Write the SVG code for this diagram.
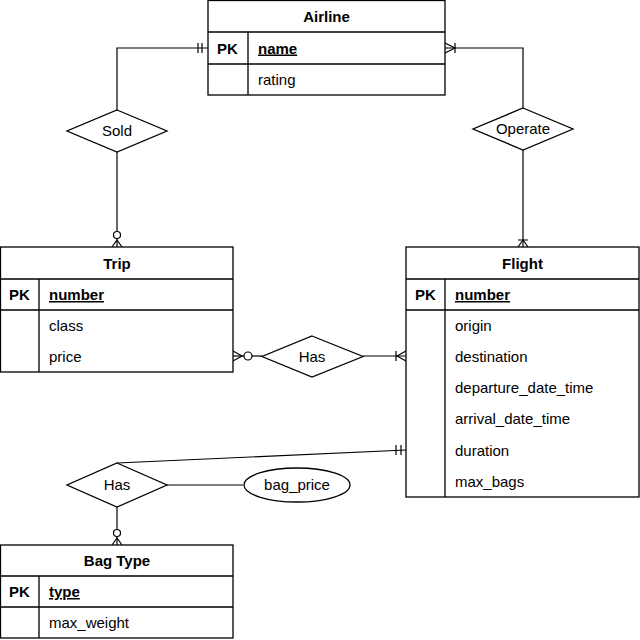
<svg xmlns="http://www.w3.org/2000/svg" width="640" height="640" viewBox="0 0 640 640">
<style>
.box{fill:#fff;stroke:#000;stroke-width:1.3}
.ln{fill:none;stroke:#000;stroke-width:1.3}
.c{fill:none;stroke:#000;stroke-width:1.2}
text{font-family:"Liberation Sans",Arial,sans-serif;font-size:15px;fill:#000}
.h{font-weight:bold;text-anchor:middle}
.b{font-weight:bold}
.u{font-weight:bold;text-decoration:underline}
.m{text-anchor:middle}
</style>
<rect width="640" height="640" fill="#fff"/>
<g id="connectors">
  <!-- Sold -->
  <path class="c" d="M117,110 V48 H208"/>
  <path class="c" d="M198,43 V53 M202,43 V53"/>
  <path class="c" d="M117,152 V247"/>
  <circle cx="117" cy="235" r="3.5" fill="#fff" stroke="#000" stroke-width="1.2"/>
  <path class="c" d="M112,247 L117,240 L122,247"/>
  <!-- Operate -->
  <path class="c" d="M445,48 H523 V108"/>
  <path class="c" d="M445,43 L455,48 L445,53 M455,43 V53"/>
  <path class="c" d="M523,150 V247"/>
  <path class="c" d="M518,247 L523,240 L528,247 M518,240 H528"/>
  <!-- Has Trip-Flight -->
  <path class="c" d="M233,356 H262"/>
  <path class="c" d="M233,351 L242,356 L233,361"/>
  <circle cx="248" cy="356" r="4" fill="#fff" stroke="#000" stroke-width="1.2"/>
  <path class="c" d="M363,356 H406"/>
  <path class="c" d="M406,351 L397,356 L406,361 M396,351 V361"/>
  <!-- Has Bag -->
  <path class="c" d="M117,463 L406,450"/>
  <path class="c" d="M396,445 V455 M401,445 V455"/>
  <path class="c" d="M117,507 V545"/>
  <circle cx="117" cy="533" r="3.5" fill="#fff" stroke="#000" stroke-width="1.2"/>
  <path class="c" d="M112,545 L117,538 L122,545"/>
  <path class="c" d="M167,485 H243"/>
</g>
<g id="airline">
  <rect class="box" x="208" y="0.5" width="237" height="94.5"/>
  <path class="ln" d="M208,32 H445 M208,64 H445 M248,32 V95"/>
  <text class="h" x="326.5" y="21.5">Airline</text>
  <text class="b" x="217" y="53.5">PK</text>
  <text class="u" x="258" y="53.5">name</text>
  <text x="258" y="84.5">rating</text>
</g>
<g id="trip">
  <rect class="box" x="0.5" y="247" width="232.5" height="125"/>
  <path class="ln" d="M0,279 H233 M0,310 H233 M39,279 V372"/>
  <text class="h" x="117" y="268.5">Trip</text>
  <text class="b" x="9" y="300">PK</text>
  <text class="u" x="49" y="300">number</text>
  <text x="49" y="331">class</text>
  <text x="49" y="362">price</text>
</g>
<g id="flight">
  <rect class="box" x="406" y="247" width="233" height="250"/>
  <path class="ln" d="M406,279 H639 M406,310 H639 M445,279 V497"/>
  <text class="h" x="522.5" y="268.5">Flight</text>
  <text class="b" x="415" y="300">PK</text>
  <text class="u" x="455" y="300">number</text>
  <text x="455" y="331">origin</text>
  <text x="455" y="362">destination</text>
  <text x="455" y="393">departure_date_time</text>
  <text x="455" y="424">arrival_date_time</text>
  <text x="455" y="455.5">duration</text>
  <text x="455" y="486.5">max_bags</text>
</g>
<g id="bagtype">
  <rect class="box" x="0.5" y="545" width="232.5" height="93"/>
  <path class="ln" d="M0,576 H233 M0,607 H233 M39,576 V638"/>
  <text class="h" x="117" y="566">Bag Type</text>
  <text class="b" x="9" y="597">PK</text>
  <text class="u" x="49" y="597">type</text>
  <text x="49" y="628">max_weight</text>
</g>
<g id="sold">
  <polygon class="box" points="117,110 167,131 117,152 67,131"/>
  <text class="m" x="117" y="136">Sold</text>
</g>
<g id="operate">
  <polygon class="box" points="523,108 573,129 523,150 473,129"/>
  <text class="m" x="523" y="134">Operate</text>
</g>
<g id="has1">
  <polygon class="box" points="312,336 363,356.5 312,377 262,356.5"/>
  <text class="m" x="312" y="361.5">Has</text>
</g>
<g id="has2">
  <polygon class="box" points="117,463 167,485 117,507 67,485"/>
  <text class="m" x="117" y="490">Has</text>
</g>
<g id="bag_price">
  <ellipse class="box" cx="297" cy="485" rx="53" ry="17"/>
  <text class="m" x="297" y="490">bag_price</text>
</g>
</svg>
